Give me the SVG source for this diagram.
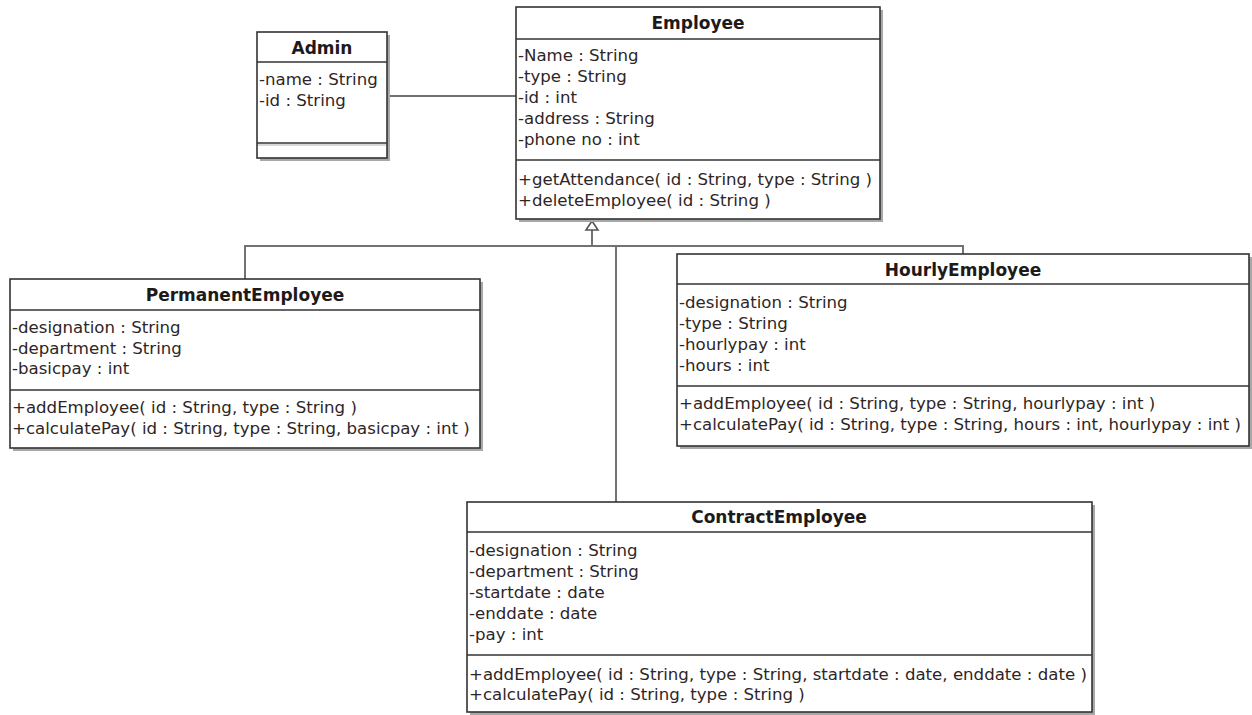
<svg xmlns="http://www.w3.org/2000/svg" width="1252" height="715" viewBox="0 0 1252 715">
<style>
.box{fill:#fff;stroke:#333;stroke-width:1.6}
.shadow{fill:#a8a8a8}
.sep{stroke:#333;stroke-width:1.6}
.sep2{stroke:#b0b0b0;stroke-width:1.2}
.title{font-family:"DejaVu Sans",sans-serif;font-weight:bold;font-size:17px;fill:#1e1a1a;text-anchor:middle}
.t{font-family:"DejaVu Sans",sans-serif;font-size:16.6px;fill:#2e2626}
.conn{stroke:#727272;stroke-width:2;fill:none}
</style>
<rect width="1252" height="715" fill="#fff"/>
<g id="connectors">
<line class="conn" x1="387" y1="96" x2="516" y2="96"/>
<polyline class="conn" points="245,279 245,246 963,246 963,254"/>
<line class="conn" x1="592" y1="230" x2="592" y2="246"/>
<line class="conn" x1="616" y1="246" x2="616" y2="502"/>
<polygon points="592,221 586,230 598,230" fill="#fff" stroke="#555" stroke-width="1.6"/>
</g>
<g id="Admin">
<rect class="shadow" x="260" y="35" width="130" height="126"/>
<rect class="box" x="257" y="32" width="130" height="126"/>
<line class="sep" x1="257" y1="62" x2="387" y2="62"/>
<line class="sep" x1="257" y1="143" x2="387" y2="143"/>
<line class="sep2" x1="258" y1="145" x2="386" y2="145"/>
<text class="title" x="322" y="54">Admin</text>
<text class="t" x="259" y="85">-name : String</text>
<text class="t" x="259" y="106">-id : String</text>
</g>
<g id="Employee">
<rect class="shadow" x="519" y="10" width="364" height="212"/>
<rect class="box" x="516" y="7" width="364" height="212"/>
<line class="sep" x1="516" y1="39" x2="880" y2="39"/>
<line class="sep" x1="516" y1="160" x2="880" y2="160"/>
<text class="title" x="698" y="29">Employee</text>
<text class="t" x="518" y="61">-Name : String</text>
<text class="t" x="518" y="82">-type : String</text>
<text class="t" x="518" y="103">-id : int</text>
<text class="t" x="518" y="124">-address : String</text>
<text class="t" x="518" y="145">-phone no : int</text>
<text class="t" x="518" y="185">+getAttendance( id : String, type : String )</text>
<text class="t" x="518" y="206">+deleteEmployee( id : String )</text>
</g>
<g id="PermanentEmployee">
<rect class="shadow" x="13" y="282" width="470" height="169"/>
<rect class="box" x="10" y="279" width="470" height="169"/>
<line class="sep" x1="10" y1="310" x2="480" y2="310"/>
<line class="sep" x1="10" y1="390" x2="480" y2="390"/>
<text class="title" x="245" y="301">PermanentEmployee</text>
<text class="t" x="12" y="333">-designation : String</text>
<text class="t" x="12" y="354">-department : String</text>
<text class="t" x="12" y="374">-basicpay : int</text>
<text class="t" x="12" y="413">+addEmployee( id : String, type : String )</text>
<text class="t" x="12" y="434">+calculatePay( id : String, type : String, basicpay : int )</text>
</g>
<g id="HourlyEmployee">
<rect class="shadow" x="680" y="257" width="572" height="192"/>
<rect class="box" x="677" y="254" width="572" height="192"/>
<line class="sep" x1="677" y1="284" x2="1249" y2="284"/>
<line class="sep" x1="677" y1="386" x2="1249" y2="386"/>
<text class="title" x="963" y="276">HourlyEmployee</text>
<text class="t" x="679" y="308">-designation : String</text>
<text class="t" x="679" y="329">-type : String</text>
<text class="t" x="679" y="350">-hourlypay : int</text>
<text class="t" x="679" y="371">-hours : int</text>
<text class="t" x="679" y="409">+addEmployee( id : String, type : String, hourlypay : int )</text>
<text class="t" x="679" y="430">+calculatePay( id : String, type : String, hours : int, hourlypay : int )</text>
</g>
<g id="ContractEmployee">
<rect class="shadow" x="470" y="505" width="625" height="210"/>
<rect class="box" x="467" y="502" width="625" height="210"/>
<line class="sep" x1="467" y1="532" x2="1092" y2="532"/>
<line class="sep" x1="467" y1="655" x2="1092" y2="655"/>
<text class="title" x="779" y="523">ContractEmployee</text>
<text class="t" x="469" y="556">-designation : String</text>
<text class="t" x="469" y="577">-department : String</text>
<text class="t" x="469" y="598">-startdate : date</text>
<text class="t" x="469" y="619">-enddate : date</text>
<text class="t" x="469" y="640">-pay : int</text>
<text class="t" x="469" y="680">+addEmployee( id : String, type : String, startdate : date, enddate : date )</text>
<text class="t" x="469" y="700">+calculatePay( id : String, type : String )</text>
</g>
</svg>
